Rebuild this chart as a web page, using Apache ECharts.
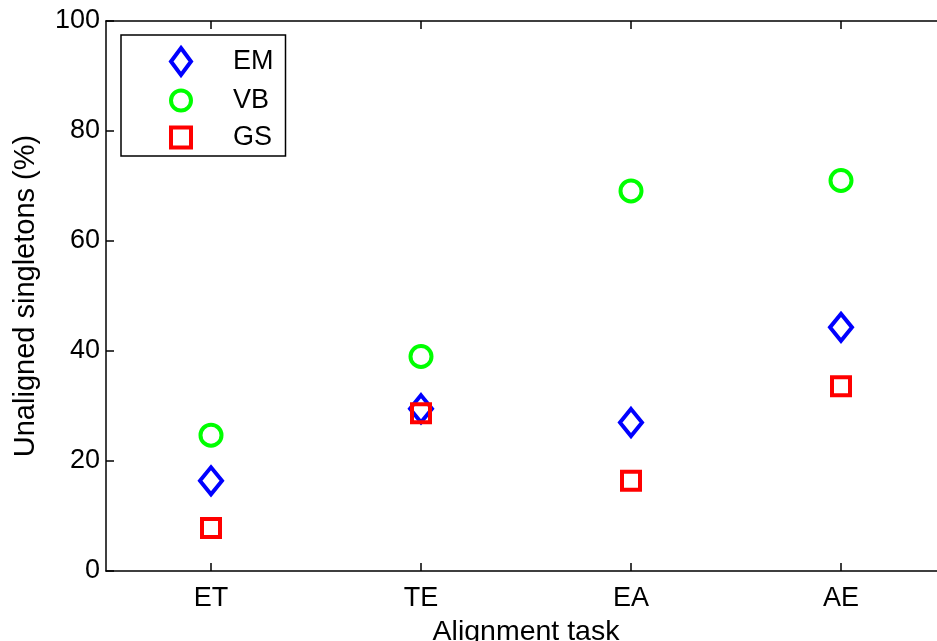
<!DOCTYPE html>
<html>
<head>
<meta charset="utf-8">
<script src="https://cdn.jsdelivr.net/npm/echarts@6/dist/echarts.min.js"></script>
<style>
  html, body { margin: 0; padding: 0; background: #ffffff; }
  #chart { width: 937px; height: 641px; }
</style>
</head>
<body>
<div id="chart"></div>
<script>
// Alignment tasks on the x axis
const tasks = ['ET', 'TE', 'EA', 'AE'];
// Percentage of unaligned singletons per method
const emValues = [16.4, 29.5, 27.0, 44.3];
const vbValues = [24.7, 39.0, 69.1, 71.0];
const gsValues = [7.8, 28.7, 16.4, 33.6];
const yTicks = [0, 20, 40, 60, 80, 100];

const FONT = 'Liberation Sans, Arial, Helvetica, sans-serif';
const axisLine = { lineStyle: { color: '#000', width: 1.5 } };
const tickStyle = { color: '#000', width: 1.5 };
// ticks point into the plot area
const tickLen = -8;

const chart = echarts.init(document.getElementById('chart'), null, { renderer: 'canvas' });

chart.setOption({
  backgroundColor: '#ffffff',
  animation: false,
  textStyle: { fontFamily: FONT },
  grid: { left: 106, top: 21, width: 840, bottom: 70, containLabel: false, outerBoundsMode: 'none' },
  legend: {
    left: 121,
    top: 35,
    orient: 'vertical',
    backgroundColor: '#ffffff',
    borderColor: '#000',
    borderWidth: 1.5,
    borderRadius: 0,
    padding: [11, 12, 5, 48],
    itemWidth: 20,
    itemHeight: 27,
    itemGap: 10,
    itemStyle: { borderWidth: 4, opacity: 1 },
    textStyle: { fontSize: 27, color: '#000', fontFamily: FONT, padding: [0, 0, 0, 37] },
    data: [
      { name: 'EM', icon: 'diamond' },
      { name: 'VB', icon: 'circle' },
      { name: 'GS', icon: 'path://M0,0L18,0L18,18L0,18Z' }
    ]
  },
  xAxis: [
    {
      type: 'category',
      data: tasks,
      position: 'bottom',
      boundaryGap: true,
      name: 'Alignment task',
      nameLocation: 'middle',
      nameGap: 47,
      nameTextStyle: { fontSize: 28.5, color: '#000', fontFamily: FONT },
      axisLine: axisLine,
      axisTick: { show: true, inside: false, length: tickLen, alignWithLabel: true, lineStyle: tickStyle },
      axisLabel: { fontSize: 27, color: '#000', margin: 14, fontFamily: FONT },
      splitLine: { show: false }
    },
    {
      type: 'category',
      data: tasks,
      position: 'top',
      boundaryGap: true,
      axisLine: axisLine,
      axisTick: { show: true, inside: false, length: tickLen, alignWithLabel: true, lineStyle: tickStyle },
      axisLabel: { show: false },
      splitLine: { show: false }
    }
  ],
  yAxis: {
    type: 'value',
    min: yTicks[0],
    max: yTicks[yTicks.length - 1],
    interval: yTicks[1] - yTicks[0],
    name: 'Unaligned singletons (%)',
    nameLocation: 'middle',
    nameGap: 66,
    nameTextStyle: { fontSize: 29, color: '#000', fontFamily: FONT },
    axisLine: { show: true, lineStyle: { color: '#000', width: 1.5 } },
    axisTick: { show: true, inside: false, length: tickLen, lineStyle: tickStyle },
    axisLabel: { fontSize: 27, color: '#000', margin: 6, fontFamily: FONT },
    splitLine: { show: false }
  },
  series: [
    {
      name: 'EM',
      type: 'scatter',
      data: emValues,
      symbol: 'diamond',
      symbolSize: [22, 27],
      itemStyle: { color: 'rgba(0,0,0,0)', borderColor: '#0000ff', borderWidth: 4, opacity: 1 },
      z: 2
    },
    {
      name: 'VB',
      type: 'scatter',
      data: vbValues,
      symbol: 'circle',
      symbolSize: 21,
      itemStyle: { color: 'rgba(0,0,0,0)', borderColor: '#00ff00', borderWidth: 4, opacity: 1 },
      z: 3
    },
    {
      name: 'GS',
      type: 'scatter',
      data: gsValues,
      symbol: 'rect',
      symbolSize: 18,
      itemStyle: { color: 'rgba(0,0,0,0)', borderColor: '#ff0000', borderWidth: 4, opacity: 1 },
      z: 4
    }
  ]
});
</script>
</body>
</html>
